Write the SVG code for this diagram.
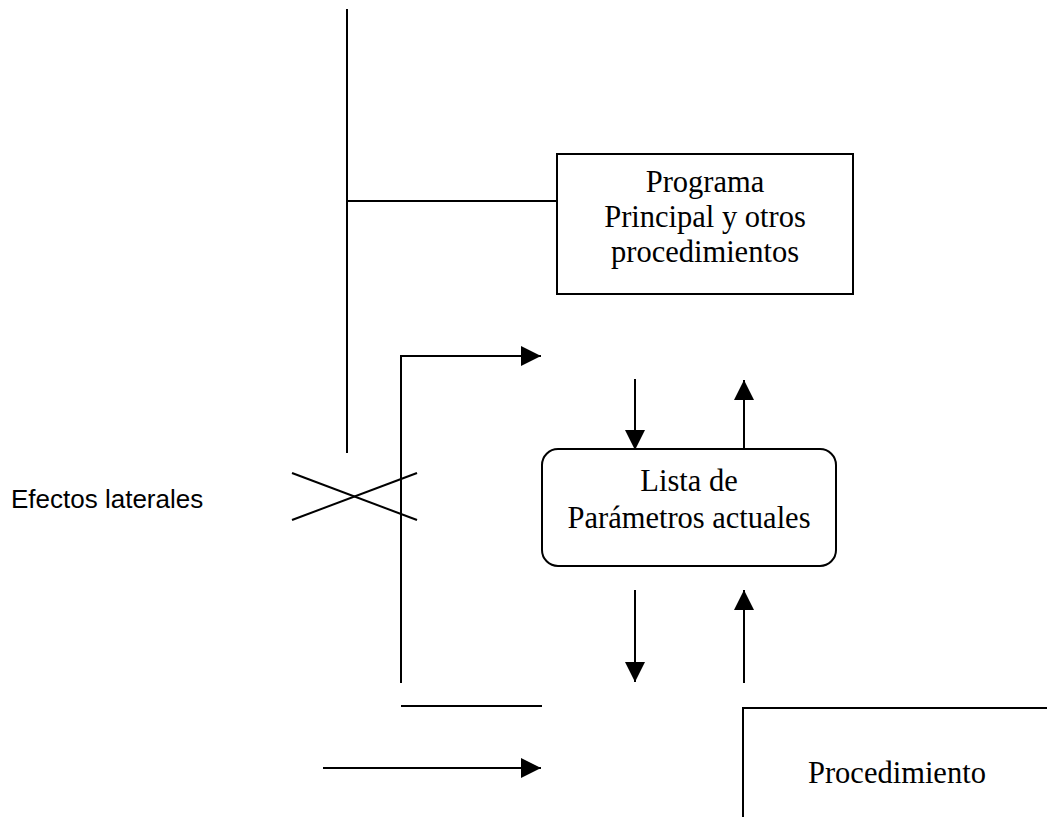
<svg xmlns="http://www.w3.org/2000/svg" width="1047" height="817" viewBox="0 0 1047 817">
  <style>
    .ln { stroke: #000; stroke-width: 2; fill: none; }
    .box { stroke: #000; stroke-width: 2; fill: #fff; }
    .serif { font-family: "Liberation Serif", "Times New Roman", serif; font-size: 30.5px; fill: #000; }
    .sans { font-family: "Liberation Sans", Arial, sans-serif; font-size: 26px; fill: #000; }
  </style>
  <defs>
    <marker id="tri" viewBox="0 0 20 20" refX="20" refY="10" markerWidth="20" markerHeight="20" markerUnits="userSpaceOnUse" orient="auto">
      <path d="M0,0 L20,10 L0,20 Z" fill="#000"/>
    </marker>
  </defs>

  <rect width="1047" height="817" fill="#fff"/>

  <g id="connectors">
    <!-- scope line on the left and its branch to the main program -->
    <line class="ln" x1="347" y1="9" x2="347" y2="453"/>
    <line class="ln" x1="347" y1="201" x2="565" y2="201"/>
    <!-- crossed-out side effects -->
    <line class="ln" x1="292" y1="473" x2="417" y2="520"/>
    <line class="ln" x1="292" y1="520" x2="417" y2="473"/>
    <!-- elbow path up and to the right -->
    <polyline class="ln" points="401,683 401,356 541,356" marker-end="url(#tri)"/>
    <!-- arrows between program and parameter list -->
    <line class="ln" x1="635" y1="379" x2="635" y2="450" marker-end="url(#tri)"/>
    <line class="ln" x1="744" y1="449" x2="744" y2="380" marker-end="url(#tri)"/>
    <!-- arrows between parameter list and procedure -->
    <line class="ln" x1="635" y1="590" x2="635" y2="682" marker-end="url(#tri)"/>
    <line class="ln" x1="744" y1="683" x2="744" y2="590" marker-end="url(#tri)"/>
    <!-- lower lines -->
    <line class="ln" x1="401" y1="706" x2="542" y2="706"/>
    <line class="ln" x1="323" y1="768" x2="541" y2="768" marker-end="url(#tri)"/>
  </g>

  <g id="programa">
    <rect class="box" x="557" y="154" width="296" height="140"/>
    <text class="serif" x="705" y="192" text-anchor="middle">Programa</text>
    <text class="serif" x="705" y="227" text-anchor="middle">Principal y otros</text>
    <text class="serif" x="705" y="262" text-anchor="middle">procedimientos</text>
  </g>

  <g id="lista">
    <rect class="box" x="542" y="449" width="294" height="117" rx="16" ry="16"/>
    <text class="serif" x="689" y="491" text-anchor="middle">Lista de</text>
    <text class="serif" x="689" y="528" text-anchor="middle">Parámetros actuales</text>
  </g>

  <g id="procedimiento">
    <polyline class="ln" points="743,817 743,708 1047,708"/>
    <text class="serif" x="808" y="783">Procedimiento</text>
  </g>

  <g id="efectos">
    <text class="sans" x="11" y="508">Efectos laterales</text>
  </g>
</svg>
